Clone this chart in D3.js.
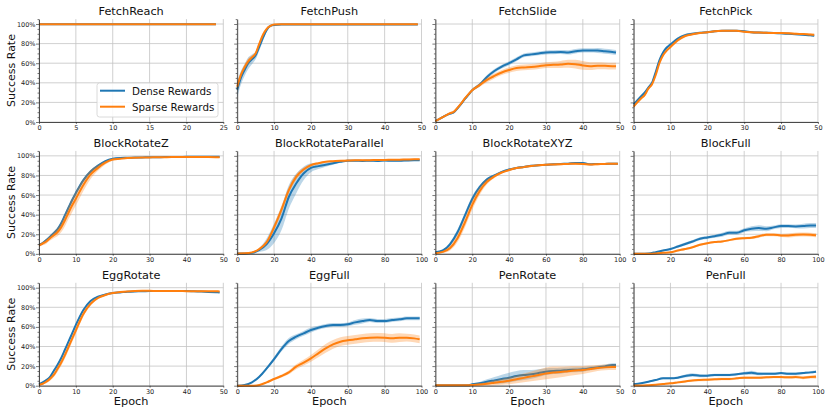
<!DOCTYPE html>
<html>
<head>
<meta charset="utf-8">
<script src="https://cdn.jsdelivr.net/npm/d3@7"></script>
<style>
    body { margin: 0; background: #fff; }
    svg { display: block; font-family: "DejaVu Sans", sans-serif; }
</style>
</head>
<body>
<div id="chart"></div>
<script>
const epochs25 = [0, 2, 4, 6, 8, 10, 12, 14, 16, 18, 20, 22, 24]
const epochs50 = [0, 1, 2, 3, 4, 5, 6, 7, 8, 9, 10, 12, 14, 16, 18, 20, 22, 24, 26, 28, 30, 32, 34, 36, 38, 40, 42, 44, 46, 48, 49]
const epochs100 = [0, 4, 8, 12, 16, 20, 24, 28, 32, 36, 40, 44, 48, 52, 56, 60, 64, 68, 72, 76, 80, 84, 88, 92, 96, 99]

const titles = ["FetchReach", "FetchPush", "FetchSlide", "FetchPick",
    "BlockRotateZ", "BlockRotateParallel", "BlockRotateXYZ", "BlockFull",
    "EggRotate", "EggFull", "PenRotate", "PenFull"]
const maxEpochs = [25, 50, 50, 50, 50, 100, 100, 100, 50, 100, 50, 100]
const seriesNames = ["Dense Rewards", "Sparse Rewards"]

const fetchReachDense = [.997, .997, .997, .997, .997, .997, .997, .997, .997, .997, .997, .997, .997]
const fetchReachDenseStd = [.003, .003, .003, .003, .003, .003, .003, .003, .003, .003, .003, .003, .003]
const fetchReachSparse = [.998, .998, .998, .998, .998, .998, .998, .998, .998, .998, .998, .998, .998]
const fetchReachSparseStd = [.002, .002, .002, .002, .002, .002, .002, .002, .002, .002, .002, .002, .002]

const fetchPushDense = [.33, .45, .53, .60, .64, .68, .77, .86, .94, .98, .99, .995, .995, .995, .995, .995, .995, .995, .995, .995, .995, .995, .995, .995, .995, .995, .995, .995, .995, .995, .995]
const fetchPushDenseStd = [.08, .07, .06, .06, .05, .04, .04, .03, .02, .01, .008, .004, .004, .004, .004, .004, .004, .004, .004, .004, .004, .004, .004, .004, .004, .004, .004, .004, .004, .004, .004]
const fetchPushSparse = [.36, .48, .56, .62, .66, .70, .80, .89, .95, .98, .995, .997, .997, .997, .997, .997, .997, .997, .997, .997, .997, .997, .997, .997, .997, .997, .997, .997, .997, .997, .997]
const fetchPushSparseStd = [.04, .03, .03, .03, .02, .02, .02, .02, .01, .01, .005, .003, .003, .003, .003, .003, .003, .003, .003, .003, .003, .003, .003, .003, .003, .003, .003, .003, .003, .003, .003]

const fetchSlideDense = [.01, .03, .05, .07, .085, .10, .14, .185, .235, .28, .325, .38, .46, .52, .565, .60, .64, .68, .69, .70, .71, .712, .714, .71, .722, .73, .73, .73, .722, .715, .71]
const fetchSlideDenseStd = [.005, .008, .01, .01, .01, .012, .012, .015, .015, .015, .015, .018, .02, .02, .02, .02, .02, .02, .02, .02, .02, .02, .02, .022, .022, .022, .022, .025, .025, .025, .025]
const fetchSlideSparse = [.01, .03, .05, .07, .09, .105, .145, .19, .24, .285, .325, .376, .43, .47, .505, .53, .55, .557, .562, .57, .58, .583, .587, .594, .59, .577, .57, .574, .573, .57, .57]
const fetchSlideSparseStd = [.005, .008, .01, .01, .012, .015, .015, .015, .015, .015, .015, .02, .025, .025, .025, .028, .03, .03, .03, .03, .03, .032, .035, .04, .045, .045, .04, .035, .035, .035, .035]

const fetchPickDense = [.18, .22, .26, .30, .35, .40, .51, .63, .71, .76, .79, .85, .885, .90, .91, .915, .925, .93, .932, .93, .925, .915, .912, .91, .908, .905, .90, .895, .89, .885, .88]
const fetchPickDenseStd = [.015, .015, .015, .015, .015, .015, .015, .015, .015, .015, .015, .015, .015, .012, .01, .01, .01, .01, .01, .01, .01, .01, .01, .01, .01, .01, .01, .01, .01, .01, .01]
const fetchPickSparse = [.156, .20, .24, .275, .34, .386, .48, .60, .68, .73, .766, .834, .878, .895, .908, .915, .925, .93, .93, .93, .92, .915, .912, .91, .908, .908, .905, .90, .897, .892, .89]
const fetchPickSparseStd = [.015, .015, .015, .015, .015, .015, .015, .015, .015, .015, .015, .015, .012, .01, .01, .01, .01, .01, .01, .01, .01, .01, .01, .01, .01, .01, .01, .01, .01, .01, .01]

const blockRotateZDense = [.09, .11, .14, .175, .21, .25, .31, .39, .47, .55, .62, .75, .84, .90, .945, .97, .978, .98, .982, .984, .985, .986, .987, .988, .988, .99, .99, .99, .99, .99, .99]
const blockRotateZDenseStd = [.01, .012, .015, .015, .02, .02, .025, .025, .025, .025, .025, .02, .015, .012, .01, .006, .005, .005, .004, .004, .004, .004, .004, .004, .004, .004, .004, .004, .004, .004, .004]
const blockRotateZSparse = [.085, .105, .126, .16, .19, .22, .27, .34, .42, .495, .563, .70, .81, .877, .93, .962, .97, .977, .98, .982, .984, .985, .986, .987, .987, .988, .988, .987, .987, .986, .985]
const blockRotateZSparseStd = [.015, .018, .022, .025, .03, .04, .05, .06, .065, .07, .07, .06, .045, .03, .018, .012, .008, .006, .005, .005, .005, .005, .005, .005, .005, .005, .005, .005, .005, .005, .005]

const blockRotateParallelDense = [.003, .004, .01, .04, .10, .21, .36, .58, .717, .82, .877, .895, .91, .925, .94, .95, .95, .948, .95, .948, .952, .95, .95, .953, .955, .955]
const blockRotateParallelDenseStd = [.002, .003, .005, .02, .06, .1, .12, .12, .1, .07, .045, .03, .02, .015, .01, .01, .008, .008, .008, .008, .008, .008, .008, .008, .008, .008]
const blockRotateParallelSparse = [.003, .005, .015, .05, .12, .27, .45, .65, .785, .86, .905, .925, .94, .945, .95, .952, .955, .955, .956, .957, .958, .96, .961, .963, .965, .966]
const blockRotateParallelSparseStd = [.002, .003, .005, .01, .02, .03, .04, .035, .03, .02, .015, .01, .008, .008, .008, .008, .008, .008, .008, .008, .008, .008, .008, .008, .008, .008]

const blockRotateXYZDense = [.017, .034, .10, .22, .39, .56, .68, .76, .80, .836, .86, .877, .887, .898, .904, .91, .914, .918, .92, .928, .928, .914, .918, .918, .92, .92]
const blockRotateXYZDenseStd = [.01, .01, .02, .03, .03, .03, .02, .015, .012, .01, .01, .01, .01, .01, .01, .01, .01, .01, .01, .01, .01, .01, .01, .01, .01, .01]
const blockRotateXYZSparse = [.005, .02, .06, .16, .32, .50, .64, .735, .79, .83, .855, .875, .885, .897, .905, .91, .912, .915, .918, .92, .918, .912, .915, .918, .92, .92]
const blockRotateXYZSparseStd = [.005, .012, .025, .04, .05, .05, .04, .025, .015, .01, .01, .01, .01, .01, .01, .01, .01, .01, .01, .01, .01, .01, .01, .01, .01, .01]

const blockFullDense = [0, 0, .003, .017, .034, .05, .075, .10, .126, .154, .167, .18, .195, .215, .215, .24, .256, .263, .256, .27, .283, .283, .28, .283, .29, .29]
const blockFullDenseStd = [0, 0, .002, .005, .008, .01, .012, .015, .015, .015, .015, .015, .02, .02, .02, .02, .025, .03, .025, .02, .02, .02, .02, .025, .025, .025]
const blockFullSparse = [0, 0, 0, .003, .01, .017, .034, .05, .068, .092, .109, .12, .126, .14, .154, .16, .164, .18, .195, .195, .188, .188, .195, .198, .195, .19]
const blockFullSparseStd = [0, 0, 0, .002, .004, .005, .008, .01, .01, .01, .01, .01, .01, .01, .012, .012, .012, .015, .015, .015, .015, .02, .02, .02, .02, .02]

const eggRotateDense = [.014, .034, .058, .09, .15, .21, .28, .364, .45, .534, .62, .77, .864, .908, .93, .946, .952, .959, .962, .963, .966, .966, .966, .966, .966, .966, .963, .96, .957, .954, .952]
const eggRotateDenseStd = [.005, .008, .01, .012, .015, .015, .015, .015, .015, .015, .015, .012, .01, .008, .006, .005, .005, .005, .005, .005, .005, .005, .005, .005, .005, .005, .005, .005, .005, .005, .005]
const eggRotateSparse = [.008, .02, .04, .07, .11, .17, .235, .31, .395, .48, .565, .73, .835, .895, .925, .945, .955, .962, .966, .968, .968, .967, .967, .966, .966, .965, .965, .965, .964, .963, .962]
const eggRotateSparseStd = [.005, .01, .015, .02, .025, .03, .035, .035, .035, .035, .035, .028, .02, .012, .008, .006, .006, .006, .006, .006, .006, .006, .006, .006, .006, .006, .006, .006, .006, .006, .006]

const eggFullDense = [0, .007, .034, .092, .177, .272, .374, .456, .50, .534, .568, .592, .609, .619, .619, .626, .646, .66, .67, .66, .66, .67, .677, .687, .687, .687]
const eggFullDenseStd = [0, .003, .005, .01, .015, .02, .025, .03, .025, .025, .025, .02, .02, .02, .02, .02, .025, .025, .02, .02, .02, .02, .02, .02, .02, .02]
const eggFullSparse = [0, 0, 0, .007, .034, .068, .099, .136, .194, .235, .279, .33, .381, .422, .449, .463, .473, .483, .49, .493, .49, .483, .49, .49, .483, .473]
const eggFullSparseStd = [0, 0, 0, .003, .008, .01, .015, .02, .025, .03, .035, .04, .045, .045, .045, .045, .045, .045, .045, .045, .045, .045, .045, .04, .04, .04]

const penRotateDense = [.005, .005, .005, .005, .005, .005, .005, .005, .005, .005, .014, .024, .04, .054, .068, .082, .099, .109, .116, .129, .143, .15, .153, .16, .163, .167, .177, .187, .197, .21, .21]
const penRotateDenseStd = [.002, .002, .002, .002, .002, .002, .003, .003, .004, .005, .008, .015, .025, .035, .045, .05, .05, .05, .045, .04, .035, .03, .03, .025, .025, .025, .02, .02, .02, .02, .02]
const penRotateSparse = [.004, .004, .004, .004, .004, .004, .004, .004, .004, .004, .008, .012, .02, .03, .04, .05, .065, .08, .095, .11, .125, .135, .14, .148, .155, .16, .17, .18, .187, .19, .19]
const penRotateSparseStd = [.002, .002, .002, .002, .002, .002, .003, .003, .004, .005, .008, .012, .018, .025, .03, .035, .04, .045, .05, .055, .06, .06, .055, .05, .045, .04, .035, .03, .03, .03, .03]

const penFullDense = [.014, .024, .04, .058, .075, .075, .082, .099, .109, .102, .102, .109, .109, .109, .116, .126, .133, .122, .122, .122, .129, .122, .122, .129, .136, .143]
const penFullDenseStd = [.005, .005, .008, .01, .01, .01, .012, .015, .018, .015, .012, .012, .012, .012, .012, .015, .02, .015, .012, .012, .012, .012, .012, .012, .012, .012]
const penFullSparse = [.002, .002, .005, .01, .017, .024, .034, .044, .054, .058, .061, .065, .068, .068, .075, .082, .082, .082, .085, .088, .088, .085, .088, .082, .088, .092]
const penFullSparseStd = [.002, .002, .003, .005, .008, .01, .012, .012, .012, .012, .012, .012, .012, .012, .012, .012, .012, .012, .012, .012, .012, .015, .015, .015, .015, .02]

const panelEpochs = [epochs25, epochs50, epochs50, epochs50, epochs50, epochs100, epochs100, epochs100, epochs50, epochs100, epochs50, epochs100]
const panelSeries = [
    [[fetchReachDense, fetchReachDenseStd], [fetchReachSparse, fetchReachSparseStd]],
    [[fetchPushDense, fetchPushDenseStd], [fetchPushSparse, fetchPushSparseStd]],
    [[fetchSlideDense, fetchSlideDenseStd], [fetchSlideSparse, fetchSlideSparseStd]],
    [[fetchPickDense, fetchPickDenseStd], [fetchPickSparse, fetchPickSparseStd]],
    [[blockRotateZDense, blockRotateZDenseStd], [blockRotateZSparse, blockRotateZSparseStd]],
    [[blockRotateParallelDense, blockRotateParallelDenseStd], [blockRotateParallelSparse, blockRotateParallelSparseStd]],
    [[blockRotateXYZDense, blockRotateXYZDenseStd], [blockRotateXYZSparse, blockRotateXYZSparseStd]],
    [[blockFullDense, blockFullDenseStd], [blockFullSparse, blockFullSparseStd]],
    [[eggRotateDense, eggRotateDenseStd], [eggRotateSparse, eggRotateSparseStd]],
    [[eggFullDense, eggFullDenseStd], [eggFullSparse, eggFullSparseStd]],
    [[penRotateDense, penRotateDenseStd], [penRotateSparse, penRotateSparseStd]],
    [[penFullDense, penFullDenseStd], [penFullSparse, penFullSparseStd]],
]

const colors = ["#1f77b4", "#ff7f0e"]

let dimensions = {
    width: 830,
    height: 415,
    left: 39,
    colStep: 198.2,
    plotWidth: 184.3,
    firstBottom: 122,
    rowStep: 131.85,
    unit: 98,
    yMax: 1.05,
}

const wrapper = d3.select("#chart")
    .append("svg")
    .attr("width", dimensions.width)
    .attr("height", dimensions.height)

titles.forEach((title, i) => {
    const col = i % 4
    const row = Math.floor(i / 4)
    const left = dimensions.left + col * dimensions.colStep
    const bottom = dimensions.firstBottom + row * dimensions.rowStep
    const top = bottom - dimensions.yMax * dimensions.unit

    const xScale = d3.scaleLinear()
        .domain([0, maxEpochs[i]])
        .range([left, left + dimensions.plotWidth])
    const yScale = d3.scaleLinear()
        .domain([0, dimensions.yMax])
        .range([bottom, top])

    const bounds = wrapper.append("g")
    const yMajor = yScale.ticks(5)
    const yMinor = yScale.ticks(21).filter(v => !yMajor.some(m => Math.abs(m - v) < 1e-6))
    const xTicks = xScale.ticks(5)

    // grid
    bounds.append("g").selectAll("line").data(xTicks).join("line")
        .attr("x1", d => xScale(d)).attr("x2", d => xScale(d))
        .attr("y1", bottom).attr("y2", top)
        .attr("stroke", "#c4c4c4").attr("stroke-width", 0.8)
    bounds.append("g").selectAll("line").data(yMajor).join("line")
        .attr("x1", left).attr("x2", left + dimensions.plotWidth)
        .attr("y1", d => yScale(d)).attr("y2", d => yScale(d))
        .attr("stroke", "#c4c4c4").attr("stroke-width", 0.8)

    // bands and mean lines
    panelSeries[i].forEach(([mean, std], s) => {
        const points = panelEpochs[i].map((e, k) => ({e: e, m: mean[k], s: std[k] || 0}))
        const band = d3.area()
            .x(d => xScale(d.e))
            .y0(d => yScale(Math.max(0, d.m - d.s)))
            .y1(d => yScale(d.m + d.s))
            .curve(d3.curveMonotoneX)
        const line = d3.line()
            .x(d => xScale(d.e))
            .y(d => yScale(d.m))
            .curve(d3.curveMonotoneX)
        bounds.append("path")
            .attr("d", band(points))
            .attr("fill", colors[s])
            .attr("fill-opacity", 0.3)
        bounds.append("path")
            .attr("d", line(points))
            .attr("fill", "none")
            .attr("stroke", colors[s])
            .attr("stroke-width", 2)
    })

    // axes
    const yAxis = d3.axisLeft(yScale)
        .tickValues(yMajor)
        .tickSize(3)
        .tickSizeOuter(0)
        .tickFormat(col === 0 ? d3.format(".0%") : "")
    const yAxisMinor = d3.axisLeft(yScale)
        .tickValues(yMinor)
        .tickSize(1.5)
        .tickFormat("")
    const xAxis = d3.axisBottom(xScale)
        .tickValues(xTicks)
        .tickSize(2)
        .tickSizeOuter(0)

    const yG = bounds.append("g")
        .attr("transform", "translate(" + left + ",0)")
        .call(yAxis)
    bounds.append("g")
        .attr("transform", "translate(" + left + ",0)")
        .call(yAxisMinor)
        .call(g => g.select(".domain").remove())
    const xG = bounds.append("g")
        .attr("transform", "translate(0," + bottom + ")")
        .call(xAxis)

    bounds.selectAll(".domain").attr("stroke", "#222").attr("stroke-width", 0.8)
    bounds.selectAll(".tick line").attr("stroke", "#222").attr("stroke-width", 0.6)
    bounds.selectAll(".tick text")
        .attr("font-family", "DejaVu Sans")
        .attr("font-size", 6.5)
        .attr("fill", "#222")
    yG.selectAll(".tick text").attr("x", -3.5)
    xG.selectAll(".tick text").attr("y", 3.5)

    // title
    bounds.append("text")
        .attr("x", left + dimensions.plotWidth / 2)
        .attr("y", top - 3.8)
        .attr("text-anchor", "middle")
        .attr("font-size", 11.3)
        .attr("fill", "#111")
        .text(title)

    if (col === 0) {
        bounds.append("text")
            .attr("transform", "translate(15," + ((top + bottom) / 2) + ") rotate(-90)")
            .attr("text-anchor", "middle")
            .attr("font-size", 11)
            .attr("fill", "#111")
            .text("Success Rate")
    }
    if (row === 2) {
        bounds.append("text")
            .attr("x", left + dimensions.plotWidth / 2)
            .attr("y", bottom + 19)
            .attr("text-anchor", "middle")
            .attr("font-size", 11.3)
            .attr("fill", "#111")
            .text("Epoch")
    }

    // legend in first panel
    if (i === 0) {
        const legend = bounds.append("g")
        legend.append("rect")
            .attr("x", 97).attr("y", 83)
            .attr("width", 121).attr("height", 34)
            .attr("rx", 2.5)
            .attr("fill", "#fff").attr("fill-opacity", 0.85)
            .attr("stroke", "#d0d0d0").attr("stroke-width", 0.8)
        seriesNames.forEach((name, s) => {
            const yy = 90.7 + s * 16
            legend.append("line")
                .attr("x1", 100).attr("x2", 125)
                .attr("y1", yy).attr("y2", yy)
                .attr("stroke", colors[s]).attr("stroke-width", 2)
            legend.append("text")
                .attr("x", 132).attr("y", yy + 3.8)
                .attr("font-size", 10.3)
                .attr("fill", "#111")
                .text(name)
        })
    }
})
</script>
</body>
</html>
